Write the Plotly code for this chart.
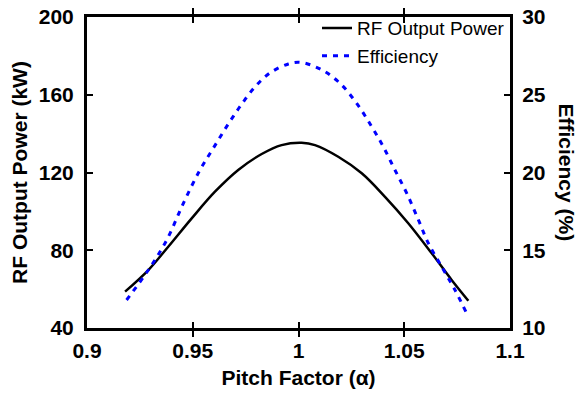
import plotly.graph_objects as go

# Data
alpha_p = [0.918, 0.929, 0.9384, 0.9495, 0.9605, 0.9715, 0.9826, 0.9920, 1.0015,
           1.0078, 1.0188, 1.0299, 1.0409, 1.0519, 1.063, 1.0724, 1.0803]
power_kw = [58.7, 69.8, 81.8, 96.4, 110.1, 121.3, 129.5, 134.1, 135.3,
            134.1, 128.1, 119.6, 107.5, 93.9, 78.4, 64.7, 54.0]

alpha_e = [0.9187, 0.929, 0.9377, 0.9455, 0.9534, 0.9597, 0.966, 0.9723, 0.9794, 0.9865, 0.9952, 1.0011,
           1.011, 1.0196, 1.0275, 1.0346, 1.0401, 1.0456, 1.0512, 1.0567, 1.0614, 1.0677, 1.074, 1.0795]
efficiency = [11.8, 13.73, 15.66, 18.0, 20.16, 21.56, 22.95, 24.23, 25.5, 26.4, 26.98, 27.08,
              26.6, 25.74, 24.45, 22.95, 21.66, 20.16, 18.66, 16.95, 15.45, 13.94, 12.44, 10.95]

x_ticks = [0.9, 0.95, 1.0, 1.05, 1.1]
x_tick_labels = ["0.9", "0.95", "1", "1.05", "1.1"]
y1_ticks = [40, 80, 120, 160, 200]
y2_ticks = [10, 15, 20, 25, 30]

FONT = "Liberation Sans, Arial, sans-serif"

fig = go.Figure()
fig.add_trace(go.Scatter(x=alpha_p, y=power_kw, mode="lines", name="RF Output Power",
                         line=dict(color="black", width=2.5, shape="spline", smoothing=1.0), yaxis="y"))
fig.add_trace(go.Scatter(x=alpha_e, y=efficiency, mode="lines", name="Efficiency",
                         line=dict(color="#0000ff", width=3, dash="5px,6px", shape="spline", smoothing=1.0),
                         yaxis="y2"))

axis_common = dict(showline=True, linecolor="black", linewidth=3, ticks="inside",
                   ticklen=6, tickwidth=1.5, tickcolor="black", showgrid=False, zeroline=False,
                   automargin=False,
                   tickfont=dict(family=FONT, size=21, color="black", weight="bold"))

fig.update_layout(
    width=576, height=393,
    margin=dict(l=87, r=66, t=17, b=65, autoexpand=False),
    paper_bgcolor="white", plot_bgcolor="white",
    showlegend=True,
    legend=dict(x=1.0, y=1.025, xanchor="right", yanchor="top", bgcolor="rgba(0,0,0,0)",
                font=dict(family=FONT, size=19, color="black"), tracegroupgap=0,
                itemwidth=30),
    xaxis=dict(range=[0.9, 1.1], tickvals=x_ticks, ticktext=x_tick_labels, mirror="allticks",
               ticklabelstandoff=2,
               title=dict(text="Pitch Factor (α)", standoff=10,
                          font=dict(family=FONT, size=21, color="black", weight="bold")),
               **axis_common),
    yaxis=dict(range=[40, 200], tickvals=y1_ticks, ticklabelstandoff=6,
               title=dict(text="RF Output Power (kW)", standoff=6,
                          font=dict(family=FONT, size=21, color="black", weight="bold")),
               **axis_common),
    yaxis2=dict(range=[10, 30], tickvals=y2_ticks, overlaying="y", side="right",
                ticklabelstandoff=5, **axis_common),
    annotations=[dict(text="Efficiency (%)", textangle=90, xref="paper", yref="paper",
                      x=1.0, y=0.5, xanchor="center", yanchor="middle", xshift=56,
                      showarrow=False,
                      font=dict(family=FONT, size=21, color="black", weight="bold"))],
)

fig.write_html("out.html")
